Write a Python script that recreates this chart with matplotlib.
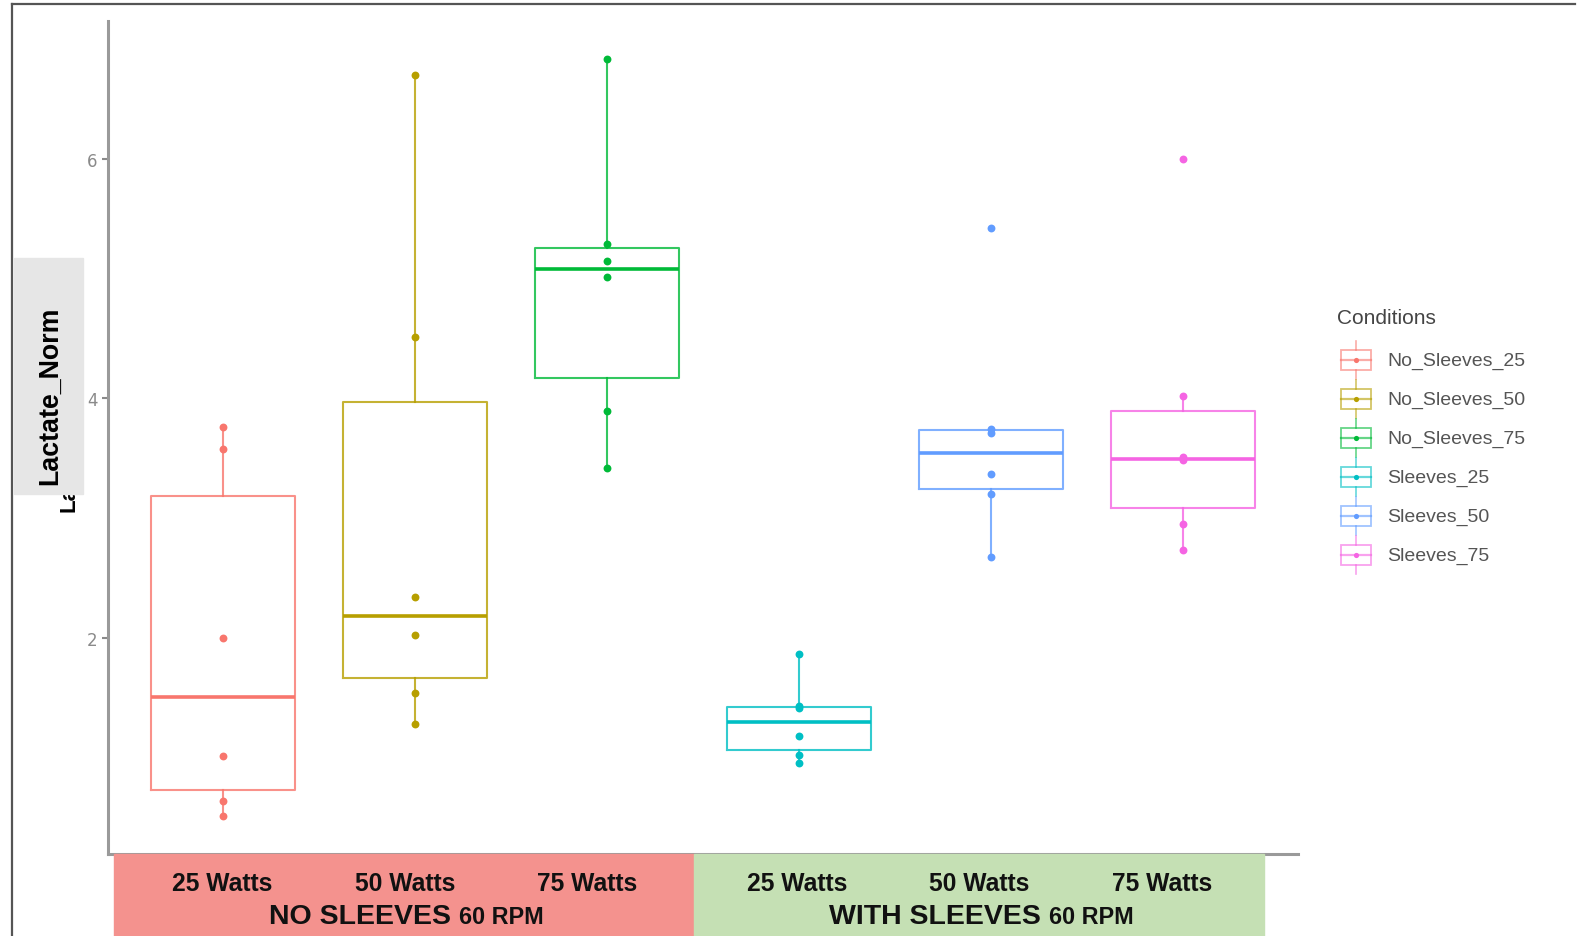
import numpy as np
import matplotlib.pyplot as plt
from matplotlib.patches import Rectangle
from matplotlib import font_manager

# lactate per condition (6 riders each)
conditions = ["No_Sleeves_25", "No_Sleeves_50", "No_Sleeves_75",
              "Sleeves_25", "Sleeves_50", "Sleeves_75"]
colors = ["#F8766D", "#B79F00", "#00BA38", "#00BFC4", "#619CFF", "#F564E3"]

no_sleeves_25 = [0.51, 0.64, 1.01, 2.00, 3.58, 3.76]
no_sleeves_50 = [1.28, 1.54, 2.02, 2.34, 4.51, 6.70]
no_sleeves_75 = [3.42, 3.89, 5.01, 5.15, 5.29, 6.83]
sleeves_25 = [0.95, 1.02, 1.18, 1.41, 1.43, 1.86]
sleeves_50 = [2.67, 3.20, 3.37, 3.71, 3.74, 5.42]
sleeves_75 = [2.73, 2.95, 3.48, 3.51, 4.02, 6.00]
series = [no_sleeves_25, no_sleeves_50, no_sleeves_75, sleeves_25, sleeves_50, sleeves_75]

watts_labels = ["25 Watts", "50 Watts", "75 Watts"]
group_names = ["NO SLEEVES", "WITH SLEEVES"]
rpm_label = "60 RPM"

W, H = 1587, 937
fig = plt.figure(figsize=(W / 100, H / 100), dpi=100)
ax = fig.add_axes([108 / W, 1 - 855 / H, 1190 / W, 833 / H])

for i, (vals, c) in enumerate(zip(series, colors), start=1):
    ax.boxplot([vals], positions=[i], widths=0.75, showcaps=False, showfliers=False,
               boxprops=dict(color=c, lw=1.5, alpha=0.8),
               whiskerprops=dict(color=c, lw=1.5, alpha=0.8),
               medianprops=dict(color=c, lw=2.6))
    ax.scatter([i] * len(vals), vals, s=32, color=c, lw=0, zorder=3)

ax.set_xlim(0.4, 6.6)
ax.set_ylim(0.194, 7.15)
ax.set_yticks([2, 4, 6])
ax.set_xticks([])
ax.tick_params(axis='y', colors='#8A8A8A', labelsize=12, length=4, width=1.5)
for side in ['top', 'right']:
    ax.spines[side].set_visible(False)
for side in ['left', 'bottom']:
    ax.spines[side].set_color('#9A9A9A')
    ax.spines[side].set_linewidth(2.2)

# overlay in pixel units for the frame, bands, label box and legend
deco = fig.add_axes([0, 0, 1, 1])
deco.set_xlim(0, W)
deco.set_ylim(H, 0)
deco.axis('off')

names = {f.name for f in font_manager.fontManager.ttflist}
narrow = 'Liberation Sans Narrow' in names
band_font = 'Liberation Sans Narrow' if narrow else 'Liberation Sans'
k = 1.0 if narrow else 0.82

deco.plot([12, 12], [5, H], color='#555555', lw=1.6)
deco.plot([12, 1575], [5, 5], color='#555555', lw=1.6)

# y axis title, mostly hidden behind the grey label box
deco.text(68, 438, "Lactate_Norm", rotation=90, ha='center', va='center',
          fontsize=16, fontweight='bold', family='Liberation Sans', zorder=1)
deco.add_patch(Rectangle((14, 259), 69, 236, color='#E6E6E6', zorder=2))
deco.text(50, 396, "Lactate_Norm", rotation=90, ha='center', va='center',
          fontsize=23.5 * k, fontweight='bold', family=band_font, zorder=3)

# condition bands under the axis
deco.add_patch(Rectangle((114, 855), 580, H - 855, color='#F4928E', zorder=2))
deco.add_patch(Rectangle((694, 855), 570, H - 855, color='#C5E0B4', zorder=2))
watts_x = [222, 405, 587, 797, 979, 1162]
for j, x in enumerate(watts_x):
    deco.text(x, 891, watts_labels[j % 3], ha='center', va='baseline',
              fontsize=21.6 * k, fontweight='bold', family=band_font, color='#111111', zorder=3)
for name, split in zip(group_names, [455, 1045]):
    deco.text(split - 4, 924, name, ha='right', va='baseline',
              fontsize=25 * k, fontweight='bold', family=band_font, color='#111111', zorder=3)
    deco.text(split + 4, 924, rpm_label, ha='left', va='baseline',
              fontsize=20.5 * k, fontweight='bold', family=band_font, color='#111111', zorder=3)

# legend with small boxplot keys
deco.text(1337, 319, "Conditions", ha='left', va='center', fontsize=15,
          color='#444444', family='Liberation Sans')
for i, (name, c) in enumerate(zip(conditions, colors)):
    y = 361 + 39 * i
    deco.add_patch(Rectangle((1341, y - 10), 30, 20, fill=False, ec=c, lw=1.3, alpha=0.6))
    deco.plot([1341, 1371], [y, y], color=c, lw=1.6, alpha=0.6)
    deco.plot([1356, 1356], [y - 19, y - 10], color=c, lw=1.2, alpha=0.6)
    deco.plot([1356, 1356], [y + 10, y + 19], color=c, lw=1.2, alpha=0.6)
    deco.scatter([1356], [y], s=14, color=c, lw=0)
    deco.text(1387, y, name, ha='left', va='center', fontsize=14,
              color='#555555', family='Liberation Sans')

fig.savefig("out.png", dpi=100)
